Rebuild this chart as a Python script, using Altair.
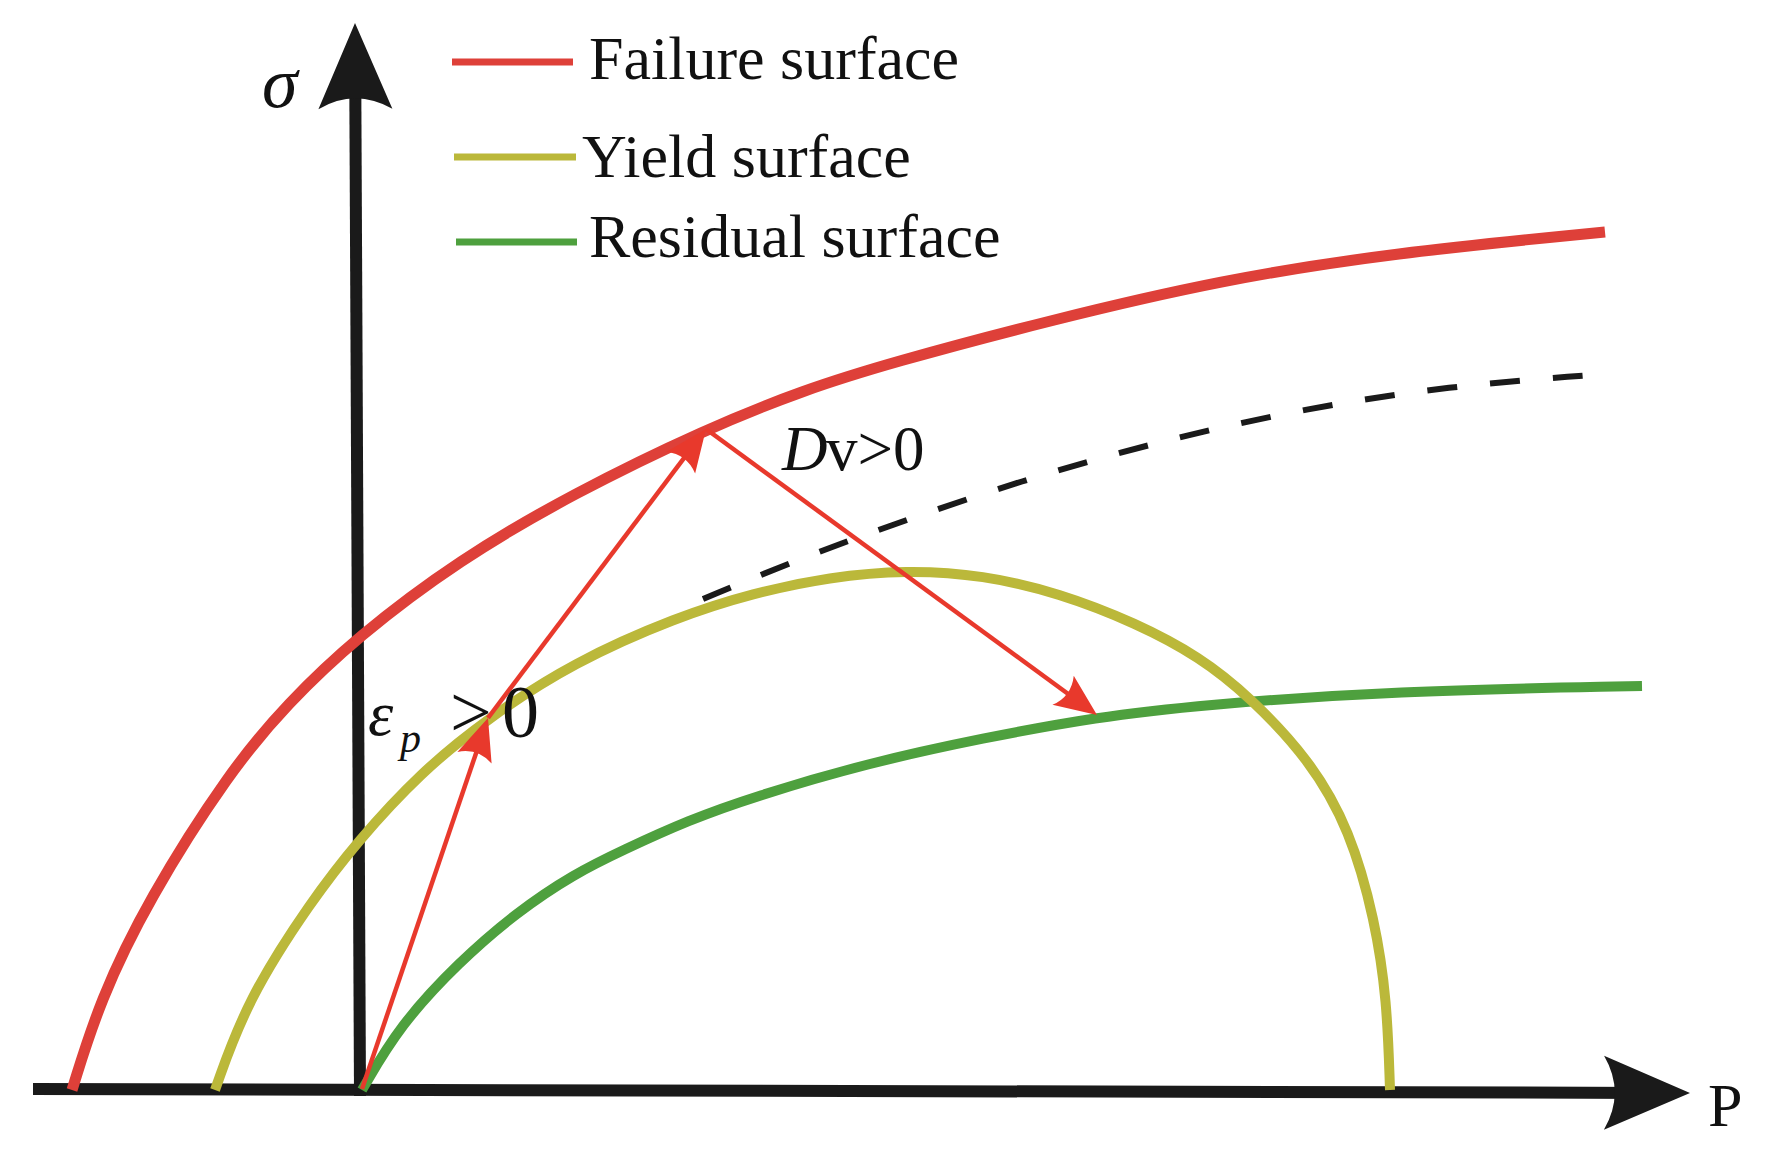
import altair as alt
import pandas as pd
import numpy as np

# ---------------- data (P, sigma in arbitrary units) -------------
fail_P = [-2.88, -2.60, -2.12, -1.30, -0.73, -0.03, 0.99, 2.14, 3.46, 4.44, 5.30, 6.91, 8.61, 10.32, 12.45]
fail_S = [0.00, 0.90, 1.90, 3.19, 3.86, 4.53, 5.30, 5.97, 6.61, 7.00, 7.27, 7.70, 8.10, 8.37, 8.58]

yield_P = [-1.45, -1.13, -0.48, -0.03, 0.60, 1.28, 2.14, 3.17, 3.93, 4.70, 5.46, 6.23, 6.99,
           7.76, 8.40, 8.90, 9.50, 9.90, 10.15, 10.27, 10.30]
yield_S = [0.00, 0.90, 1.90, 2.48, 3.17, 3.72, 4.28, 4.73, 4.97, 5.13, 5.20, 5.15, 4.97,
           4.67, 4.33, 3.93, 3.30, 2.60, 1.70, 0.90, 0.00]

resid_P = [0.02, 0.40, 0.99, 1.57, 2.14, 2.63, 3.29, 3.93, 5.08, 6.23, 7.37, 8.40, 10.32, 12.82]
resid_S = [0.00, 0.65, 1.28, 1.78, 2.16, 2.40, 2.70, 2.93, 3.27, 3.52, 3.73, 3.85, 3.99, 4.04]

dash_P = [3.43, 4.29, 5.20, 6.62, 8.04, 9.47, 10.89, 12.31]
dash_S = [4.91, 5.27, 5.61, 6.10, 6.50, 6.82, 7.04, 7.15]

# stress-path arrows: start -> tip
arrow_from_P = [0.02, 1.28, 3.46]
arrow_from_S = [0.01, 3.72, 6.61]
arrow_to_P = [1.28, 3.46, 7.37]
arrow_to_S = [3.72, 6.61, 3.75]

# coordinate axes: start -> tip
axis_from_P = [-3.27, 0.00]
axis_from_S = [0.01, -0.06]
axis_to_P = [13.30, -0.05]
axis_to_S = [-0.03, 10.67]

# legend
legend_names = ["Failure surface", "Yield surface", "Residual surface"]
legend_colors = ["#DE4039", "#BBB83A", "#4EA03E"]
legend_line_P = [0.92, 0.94, 0.96]
legend_line_P2 = [2.13, 2.16, 2.17]
legend_line_S = [10.28, 9.33, 8.48]
legend_text_P = [2.29, 2.22, 2.29]
legend_text_S = [10.11, 9.13, 8.33]

# annotations
note_text = ["P", "v>0", ">", "0"]
note_P = [13.48, 4.66, 0.90, 1.42]
note_S = [-0.36, 6.20, 3.53, 3.53]
note_size = [62, 63, 74, 74]

ital_text = ["σ", "D", "ε", "p"]
ital_P = [-0.98, 4.22, 0.08, 0.40]
ital_S = [9.83, 6.20, 3.55, 3.38]
ital_size = [72, 63, 64, 42]

# ---------------- scales -------------------------------------------------------------
W, H = 1752, 1142
xs = alt.Scale(domain=[-3.52, 14.00], nice=False, zero=False)
ys = alt.Scale(domain=[-0.60, 10.82], nice=False, zero=False)
X = alt.X("P:Q", scale=xs, axis=None)
Y = alt.Y("S:Q", scale=ys, axis=None)

HEAD = "M0,0 L-2,-0.86 Q-1.5,0 -2,0.86 Z"
AXIS_COL = "#1A1A1A"
ARROW_COL = "#E8392C"


def curve(P, S, color, width, dash=None, interp="basis"):
    df = pd.DataFrame({"P": P, "S": S, "ord": range(len(P))})
    kw = dict(color=color, strokeWidth=width, clip=False, interpolate=interp)
    if dash:
        kw["strokeDash"] = dash
    return alt.Chart(df).mark_line(**kw).encode(x=X, y=Y, order="ord:Q")


def arrows(P0, S0, P1, S1, color, width, head_size, back):
    P0, S0, P1, S1 = map(np.array, (P0, S0, P1, S1))
    dP, dS = P1 - P0, S1 - S0
    L = np.hypot(dP, dS)
    ang = (np.degrees(np.arctan2(-dS, dP))) % 360
    seg = pd.DataFrame({"P": P0, "S": S0,
                        "P2": P1 - dP / L * back, "S2": S1 - dS / L * back})
    heads = pd.DataFrame({"P": P1, "S": S1, "ang": ang})
    lines = alt.Chart(seg).mark_rule(color=color, strokeWidth=width, clip=False).encode(
        x=X, y=Y, x2="P2:Q", y2="S2:Q")
    pts = alt.Chart(heads).mark_point(shape=HEAD, filled=True, color=color, opacity=1,
                                      strokeWidth=0, size=head_size, clip=False).encode(
        x=X, y=Y, angle=alt.Angle("ang:Q", scale=None))
    return lines + pts


axes = arrows(axis_from_P, axis_from_S, axis_to_P, axis_to_S, AXIS_COL, 12, 7396, 0.40)
paths = arrows(arrow_from_P, arrow_from_S, arrow_to_P, arrow_to_S, ARROW_COL, 4.5, 1764, 0.20)

dashed = curve(dash_P, dash_S, AXIS_COL, 6, dash=[30, 33])
green = curve(resid_P, resid_S, legend_colors[2], 10)
yellow = curve(yield_P, yield_S, legend_colors[1], 10)
red = curve(fail_P, fail_S, legend_colors[0], 11)

leg_df = pd.DataFrame({"P": legend_line_P, "P2": legend_line_P2, "S": legend_line_S,
                       "col": legend_colors, "name": legend_names,
                       "tP": legend_text_P, "tS": legend_text_S})
leg_lines = alt.Chart(leg_df).mark_rule(strokeWidth=7).encode(
    x=X, x2="P2:Q", y=Y, color=alt.Color("col:N", scale=None))
leg_text = alt.Chart(leg_df).mark_text(align="left", baseline="alphabetic",
                                       font="Liberation Serif", fontSize=62,
                                       color="#111111").encode(
    x=alt.X("tP:Q", scale=xs, axis=None), y=alt.Y("tS:Q", scale=ys, axis=None), text="name:N")

note_df = pd.DataFrame({"P": note_P, "S": note_S, "t": note_text, "sz": note_size})
notes = alt.Chart(note_df).mark_text(align="left", baseline="alphabetic",
                                     font="Liberation Serif", color="#111111").encode(
    x=X, y=Y, text="t:N", size=alt.Size("sz:Q", scale=None))

ital_df = pd.DataFrame({"P": ital_P, "S": ital_S, "t": ital_text, "sz": ital_size})
itals = alt.Chart(ital_df).mark_text(align="left", baseline="alphabetic",
                                     font="Liberation Serif", fontStyle="italic",
                                     color="#111111").encode(
    x=X, y=Y, text="t:N", size=alt.Size("sz:Q", scale=None))

chart = alt.layer(
    axes, dashed, green, yellow, red, paths, leg_lines, leg_text, notes, itals
).properties(
    width=W, height=H, padding=0, autosize=alt.AutoSizeParams(type="none"),
    background="white"
).configure_view(stroke=None)

chart.save("out.html", embed_options={"renderer": "svg", "actions": False})
